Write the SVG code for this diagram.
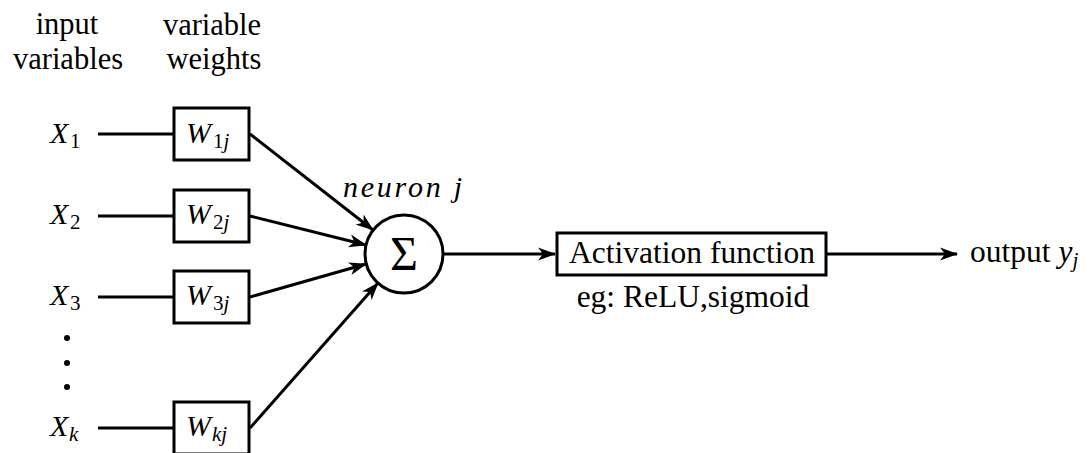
<svg xmlns="http://www.w3.org/2000/svg" width="1090" height="453" viewBox="0 0 1090 453">
<style>
text{font-family:'Liberation Serif','Times New Roman',serif;fill:#000;font-size:30.5px}
.c{text-anchor:middle}
.i{font-style:italic}
.m{font-size:30px}
.s{font-size:21px}
.b{font-size:31.5px}
.box{fill:#fff;stroke:#000;stroke-width:3}
.ln{stroke:#000;stroke-width:3;fill:none}
</style>
<defs>
<marker id="ah" viewBox="0 0 18 14" refX="17" refY="7" markerWidth="18" markerHeight="14" markerUnits="userSpaceOnUse" orient="auto">
<path d="M0,0.5 L18,7 L0,13.5 L5,7 Z" fill="#000"/>
</marker>
</defs>
<g id="headers">
<text class="c" x="67" y="34">input</text>
<text class="c" x="68" y="69">variables</text>
<text class="c" x="212" y="35">variable</text>
<text class="c" x="214" y="69">weights</text>
</g>
<g id="connectors">
<line class="ln" x1="98" y1="134" x2="174" y2="134"/>
<line class="ln" x1="98" y1="216" x2="174" y2="216"/>
<line class="ln" x1="98" y1="297" x2="174" y2="297"/>
<line class="ln" x1="98" y1="428" x2="174" y2="428"/>
<line class="ln" x1="250" y1="134" x2="373" y2="230" marker-end="url(#ah)"/>
<line class="ln" x1="250" y1="216" x2="366" y2="245" marker-end="url(#ah)"/>
<line class="ln" x1="250" y1="297" x2="366" y2="264" marker-end="url(#ah)"/>
<line class="ln" x1="250" y1="428" x2="378" y2="283" marker-end="url(#ah)"/>
<line class="ln" x1="443" y1="254" x2="555" y2="254" marker-end="url(#ah)"/>
<line class="ln" x1="827" y1="254" x2="957" y2="254" marker-end="url(#ah)"/>
</g>
<g id="x1"><text class="m" x="50" y="143"><tspan class="i">X</tspan><tspan class="s" x="70" dy="5">1</tspan></text></g>
<g id="x2"><text class="m" x="50" y="224"><tspan class="i">X</tspan><tspan class="s" x="70" dy="5">2</tspan></text></g>
<g id="x3"><text class="m" x="50" y="305"><tspan class="i">X</tspan><tspan class="s" x="70" dy="5">3</tspan></text></g>
<g id="dots"><circle cx="67" cy="338" r="3"/><circle cx="67" cy="363" r="3"/><circle cx="67" cy="387" r="3"/></g>
<g id="xk"><text class="m" x="50" y="436"><tspan class="i">X</tspan><tspan class="s i" x="69" dy="5">k</tspan></text></g>
<g id="w1"><rect class="box" x="174" y="108" width="75" height="52"/><text class="m" x="186" y="143"><tspan class="i">W</tspan><tspan class="s" x="213" dy="5">1</tspan><tspan class="s i">j</tspan></text></g>
<g id="w2"><rect class="box" x="174" y="190" width="75" height="52"/><text class="m" x="186" y="224"><tspan class="i">W</tspan><tspan class="s" x="213" dy="5">2</tspan><tspan class="s i">j</tspan></text></g>
<g id="w3"><rect class="box" x="174" y="271" width="75" height="52"/><text class="m" x="186" y="305"><tspan class="i">W</tspan><tspan class="s" x="213" dy="5">3</tspan><tspan class="s i">j</tspan></text></g>
<g id="wk"><rect class="box" x="174" y="402" width="75" height="52"/><text class="m" x="186" y="436"><tspan class="i">W</tspan><tspan class="s i" x="212" dy="5">kj</tspan></text></g>
<g id="neuron">
<circle cx="404" cy="254" r="39" class="ln"/>
<text class="c" x="404" y="270" style="font-size:48px">Σ</text>
<text class="i" x="343" y="197" style="font-size:30px" textLength="119">neuron j</text>
</g>
<g id="activation">
<rect class="box" x="557" y="233" width="269" height="42"/>
<text class="c b" x="692" y="263">Activation function</text>
<text class="c b" x="693" y="307">eg: ReLU,sigmoid</text>
</g>
<g id="output"><text class="b" x="970" y="262">output <tspan class="i">y</tspan><tspan class="s i" dy="5">j</tspan></text></g>
</svg>
